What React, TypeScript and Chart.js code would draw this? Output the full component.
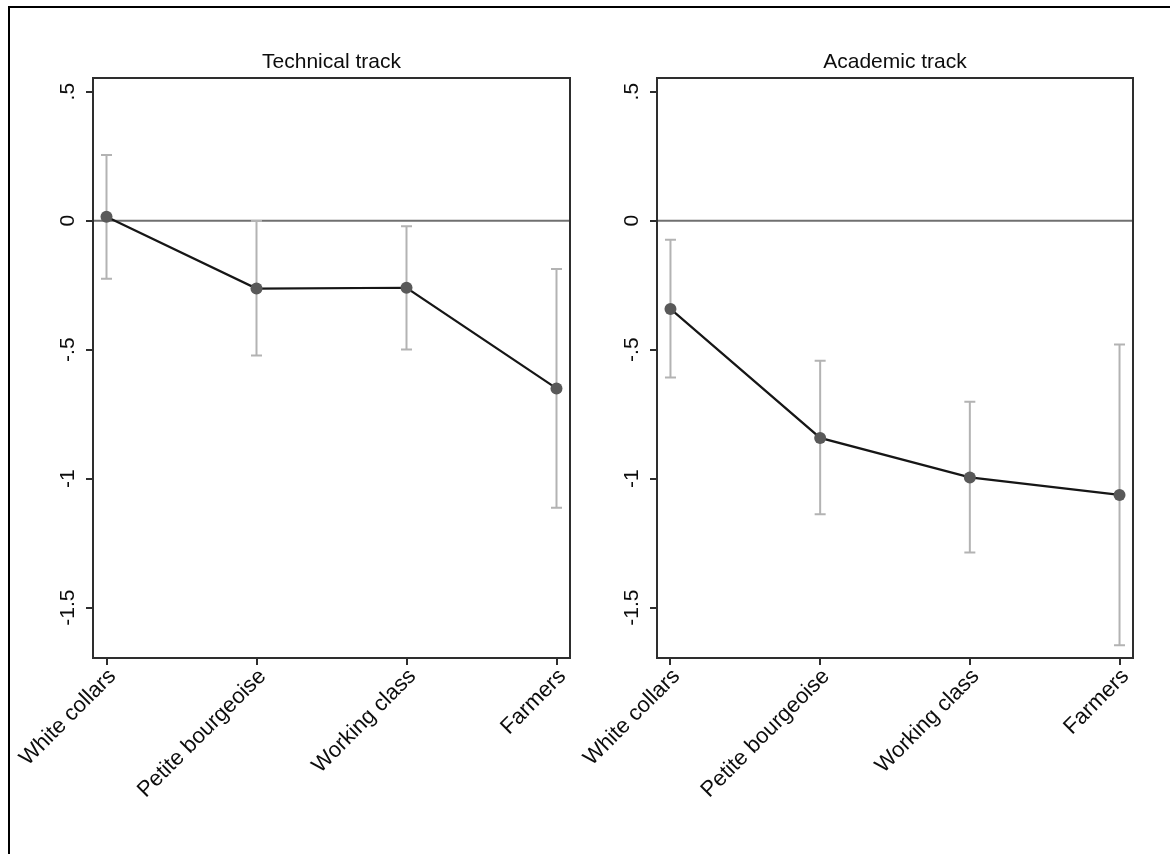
import React, { useEffect, useRef } from "react";
import { Chart, registerables } from "chart.js";

Chart.register(...registerables);

// ---------------- data ----------------
const categories = ["White collars", "Petite bourgeoise", "Working class", "Farmers"];
const yTickValues = [0.5, 0, -0.5, -1, -1.5];
const yTickLabels = [".5", "0", "-.5", "-1", "-1.5"];

const technicalTitle = "Technical track";
const technicalEst = [0.015, -0.263, -0.26, -0.65];
const technicalLo = [-0.225, -0.523, -0.499, -1.113];
const technicalHi = [0.255, -0.001, -0.022, -0.187];

const academicTitle = "Academic track";
const academicEst = [-0.342, -0.842, -0.995, -1.063];
const academicLo = [-0.608, -1.138, -1.286, -1.646];
const academicHi = [-0.074, -0.543, -0.702, -0.48];

const Y_MIN = -1.695;
const Y_MAX = 0.553;
const X_PAD = 0.09;

const FONT_FAMILY = '"Liberation Sans", Arial, Helvetica, sans-serif';
const AXIS_COLOR = "#2e2e2e";
const TEXT_COLOR = "#0d0d0d";

type PanelProps = {
  title: string;
  est: number[];
  lo: number[];
  hi: number[];
  canvasLeft: number;
  canvasWidth: number;
  axisWidth: number;
  rightPad: number;
};

const CANVAS_H = 854;
const PLOT_TOP = 78;
const PLOT_BOTTOM = 658;

function Panel(props: PanelProps) {
  const ref = useRef<HTMLCanvasElement | null>(null);

  useEffect(() => {
    const canvas = ref.current;
    if (!canvas) return;
    const { title, est, lo, hi, axisWidth, rightPad } = props;

    const decorPlugin = {
      id: "decor",
      beforeDatasetsDraw(chart: any) {
        const ctx = chart.ctx;
        const area = chart.chartArea;
        const xs = chart.scales.x;
        const ys = chart.scales.y;
        ctx.save();
        // zero reference line
        const y0 = ys.getPixelForValue(0);
        ctx.strokeStyle = "#707070";
        ctx.lineWidth = 2;
        ctx.beginPath();
        ctx.moveTo(area.left, y0);
        ctx.lineTo(area.right, y0);
        ctx.stroke();
        // error bars
        ctx.strokeStyle = "#b3b3b3";
        ctx.lineWidth = 2;
        const cap = 5.5;
        for (let i = 0; i < categories.length; i++) {
          const px = xs.getPixelForValue(i);
          const pl = ys.getPixelForValue(lo[i]);
          const ph = ys.getPixelForValue(hi[i]);
          ctx.beginPath();
          ctx.moveTo(px, pl);
          ctx.lineTo(px, ph);
          ctx.moveTo(px - cap, pl);
          ctx.lineTo(px + cap, pl);
          ctx.moveTo(px - cap, ph);
          ctx.lineTo(px + cap, ph);
          ctx.stroke();
        }
        ctx.restore();
      },
      afterDraw(chart: any) {
        const ctx = chart.ctx;
        const area = chart.chartArea;
        const xs = chart.scales.x;
        const ys = chart.scales.y;
        ctx.save();
        // plot region outline
        ctx.strokeStyle = AXIS_COLOR;
        ctx.lineWidth = 2;
        ctx.strokeRect(area.left, area.top, area.right - area.left, area.bottom - area.top);
        // title
        ctx.fillStyle = TEXT_COLOR;
        ctx.font = `21px ${FONT_FAMILY}`;
        ctx.textAlign = "center";
        ctx.textBaseline = "alphabetic";
        ctx.fillText(title, (area.left + area.right) / 2, area.top - 10);
        // y tick labels, rotated
        for (let i = 0; i < yTickValues.length; i++) {
          const py = ys.getPixelForValue(yTickValues[i]);
          ctx.save();
          ctx.translate(area.left - 19, py);
          ctx.rotate(-Math.PI / 2);
          ctx.textAlign = "center";
          ctx.textBaseline = "alphabetic";
          ctx.fillText(yTickLabels[i], 0, 0);
          ctx.restore();
        }
        // x tick labels, rotated 45 degrees
        ctx.font = `22px ${FONT_FAMILY}`;
        for (let i = 0; i < categories.length; i++) {
          const px = xs.getPixelForValue(i);
          ctx.save();
          ctx.translate(px + 6, area.bottom + 15);
          ctx.rotate(-Math.PI / 4);
          ctx.textAlign = "right";
          ctx.textBaseline = "middle";
          ctx.fillText(categories[i], 0, 0);
          ctx.restore();
        }
        ctx.restore();
      },
    };

    const chart = new Chart(canvas, {
      type: "line",
      data: {
        datasets: [
          {
            data: est.map((v, i) => ({ x: i, y: v })),
            borderColor: "#161616",
            borderWidth: 2.2,
            pointRadius: 6,
            pointHoverRadius: 6,
            pointBackgroundColor: "#595959",
            pointBorderColor: "#595959",
            pointBorderWidth: 0,
            tension: 0,
            fill: false,
          },
        ],
      },
      options: {
        animation: false,
        responsive: false,
        maintainAspectRatio: false,
        events: [],
        layout: { padding: { left: 0, top: PLOT_TOP, right: rightPad, bottom: 0 } },
        plugins: {
          legend: { display: false },
          title: { display: false },
          tooltip: { enabled: false },
        },
        scales: {
          x: {
            type: "linear",
            min: -X_PAD,
            max: categories.length - 1 + X_PAD,
            afterBuildTicks: (s: any) => {
              s.ticks = categories.map((_, i) => ({ value: i }));
            },
            afterFit: (s: any) => {
              s.height = CANVAS_H - PLOT_BOTTOM;
            },
            ticks: { display: false },
            grid: {
              drawOnChartArea: false,
              drawTicks: true,
              tickLength: 7,
              color: AXIS_COLOR,
              lineWidth: 2,
            },
            border: { display: true, color: AXIS_COLOR, width: 2 },
          },
          y: {
            type: "linear",
            min: Y_MIN,
            max: Y_MAX,
            afterBuildTicks: (s: any) => {
              s.ticks = yTickValues.map((v) => ({ value: v }));
            },
            afterFit: (s: any) => {
              s.width = axisWidth;
            },
            ticks: { display: false },
            grid: {
              drawOnChartArea: false,
              drawTicks: true,
              tickLength: 7,
              color: AXIS_COLOR,
              lineWidth: 2,
            },
            border: { display: true, color: AXIS_COLOR, width: 2 },
          },
        },
      } as any,
      plugins: [decorPlugin],
    });

    return () => {
      chart.destroy();
    };
  }, []);

  return (
    <canvas
      ref={ref}
      width={props.canvasWidth}
      height={CANVAS_H}
      style={{
        position: "absolute",
        left: props.canvasLeft,
        top: 0,
        width: props.canvasWidth,
        height: CANVAS_H,
      }}
    />
  );
}

export default function App() {
  return (
    <div
      style={{
        position: "fixed",
        left: 0,
        top: 0,
        width: 1170,
        height: 854,
        background: "#ffffff",
        overflow: "hidden",
      }}
    >
      <div
        style={{
          position: "absolute",
          left: 8,
          top: 6,
          width: 1200,
          height: 900,
          borderTop: "2px solid #000",
          borderLeft: "2px solid #000",
        }}
      />
      <Panel
        title={technicalTitle}
        est={technicalEst}
        lo={technicalLo}
        hi={technicalHi}
        canvasLeft={0}
        canvasWidth={600}
        axisWidth={93}
        rightPad={30}
      />
      <Panel
        title={academicTitle}
        est={academicEst}
        lo={academicLo}
        hi={academicHi}
        canvasLeft={560}
        canvasWidth={610}
        axisWidth={97}
        rightPad={37}
      />
    </div>
  );
}
